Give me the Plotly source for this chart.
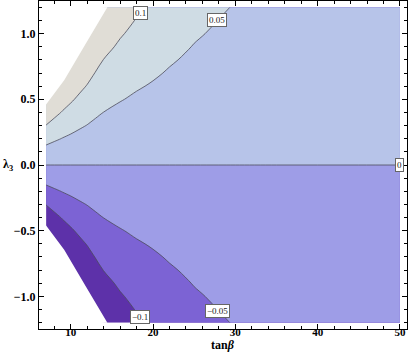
import plotly.graph_objects as go

# --- data ---
tan_beta = [7, 8, 9, 10, 11, 12, 13, 14, 16, 18, 20, 22, 25, 28, 30, 35, 40, 45, 50]
slope = [0.329, 0.280, 0.242, 0.212, 0.185, 0.163, 0.141, 0.124, 0.104, 0.089,
         0.078, 0.067, 0.054, 0.045, 0.040, 0.031, 0.025, 0.021, 0.018]
lambda3 = [round(-1.2 + 0.1 * i, 2) for i in range(25)]

# excluded (white) region boundaries
mask_t = [7, 9.2, 11.6, 14.45]
mask_upper = [0.46, 0.645, 0.9, 1.2]
mask_lower = [-0.46, -0.645, -0.9, -1.2]

levels = [-0.1, -0.05, 0.0, 0.05, 0.1]
level_labels = ["\u22120.1", "\u22120.05", "0", "0.05", "0.1"]
label_t = [18.47, 27.8, 49.9, 27.8, 18.47]
label_l = [-1.157, -1.108, 0.0, 1.10, 1.16]

band_colors = ["#5d31a9", "#7c63d4", "#9e9de7", "#b7c4e9", "#cfdce4", "#e0ddd6"]

z = [[lam * s for s in slope] for lam in lambda3]

fig = go.Figure()
fig.add_trace(go.Contour(
    x=tan_beta, y=lambda3, z=z,
    contours=dict(start=levels[0], end=levels[-1], size=0.05, coloring="fill", showlines=True),
    colorscale=[[i / 5, c] for i, c in enumerate(band_colors)],
    line=dict(color="#4d4d5c", width=0.8),
    showscale=False, hoverinfo="skip",
))

# white masks
fig.add_trace(go.Scatter(
    x=mask_t + [mask_t[0] - 0.2, mask_t[0] - 0.2],
    y=mask_upper + [mask_upper[-1] + 0.02, mask_upper[0]],
    fill="toself", fillcolor="white", line=dict(width=0, color="white"),
    mode="lines", showlegend=False, hoverinfo="skip"))
fig.add_trace(go.Scatter(
    x=mask_t + [mask_t[0] - 0.2, mask_t[0] - 0.2],
    y=mask_lower + [mask_lower[-1] - 0.02, mask_lower[0]],
    fill="toself", fillcolor="white", line=dict(width=0, color="white"),
    mode="lines", showlegend=False, hoverinfo="skip"))

for txt, t, l in zip(level_labels, label_t, label_l):
    fig.add_annotation(x=t, y=l, text=txt, showarrow=False,
                       font=dict(family="Liberation Serif", size=9, color="#222"),
                       bgcolor="white", bordercolor="#666", borderwidth=1, borderpad=1)

serif = "Liberation Serif"
fig.add_annotation(xref="paper", yref="paper", x=0.5, y=-0.05, yanchor="middle",
                   text="<b>tan<i>β</i></b>", showarrow=False,
                   font=dict(family=serif, size=12, color="black"))
fig.add_annotation(xref="paper", yref="y", x=-0.085, y=0, xanchor="center",
                   text="<b>λ<sub>3</sub></b>", showarrow=False,
                   font=dict(family=serif, size=12, color="black"))

axis_common = dict(showgrid=False, zeroline=False, showline=True, linecolor="black",
                   linewidth=1, mirror="allticks", ticks="inside", ticklen=5,
                   tickcolor="black", tickwidth=1)
fig.update_xaxes(range=[6.14, 50.86], tick0=0, dtick=10,
                 minor=dict(dtick=2, ticks="inside", ticklen=3, tickcolor="black"),
                 ticklabelstandoff=-7,
                 tickfont=dict(family=serif, size=11, color="black", weight="bold"),
                 **axis_common)
fig.update_yaxes(range=[-1.248, 1.248], tick0=0, dtick=0.5, tickformat=".1f",
                 minor=dict(dtick=0.1, ticks="inside", ticklen=3, tickcolor="black"),
                 tickfont=dict(family=serif, size=12, color="black", weight="bold"),
                 **axis_common)
fig.update_layout(width=409, height=354, margin=dict(l=39, r=2, t=1, b=25),
                  plot_bgcolor="white", paper_bgcolor="white", showlegend=False)
fig.write_html("out.html", config={"displayModeBar": False},
               post_script="document.body.style.margin='0';")
